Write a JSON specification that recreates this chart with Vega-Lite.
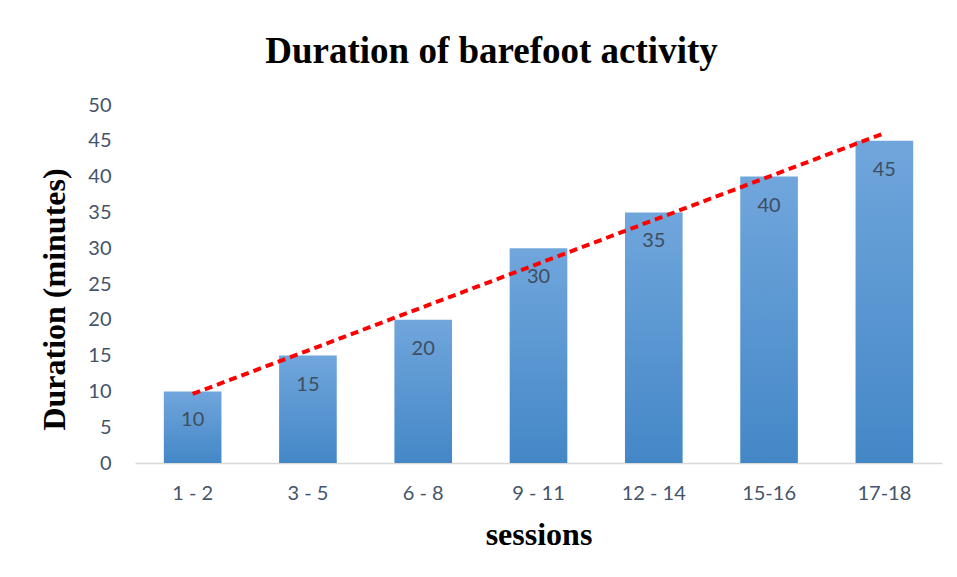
{
  "$schema": "https://vega.github.io/schema/vega-lite/v6.json",
  "autosize": "none",
  "width": 807,
  "height": 358,
  "padding": {"left": 135, "top": 105, "right": 15, "bottom": 114},
  "background": "white",
  "title": {
    "text": "Duration of barefoot activity",
    "font": "Liberation Serif",
    "fontSize": 37,
    "fontWeight": "bold",
    "color": "#000000",
    "anchor": "middle",
    "offset": 24,
    "dx": -47
  },
  "data": {
    "values": [
      {"session": "1 - 2", "duration": 10, "trend": 9.64},
      {"session": "3 - 5", "duration": 15, "trend": 15.71},
      {"session": "6 - 8", "duration": 20, "trend": 21.79},
      {"session": "9 - 11", "duration": 30, "trend": 27.86},
      {"session": "12 - 14", "duration": 35, "trend": 33.93},
      {"session": "15-16", "duration": 40, "trend": 40.0},
      {"session": "17-18", "duration": 45, "trend": 46.07}
    ]
  },
  "encoding": {
    "x": {
      "field": "session",
      "type": "nominal",
      "sort": null,
      "scale": {"paddingInner": 0.5, "paddingOuter": 0.25},
      "axis": {
        "title": "sessions",
        "titleFont": "Liberation Serif",
        "titleFontSize": 32,
        "titleFontWeight": "bold",
        "titleColor": "#000000",
        "titlePadding": 16,
        "labelAngle": 0,
        "labelFont": "Lato",
        "labelFontSize": 20,
        "labelColor": "#44546A",
        "labelPadding": 20,
        "ticks": false,
        "domainColor": "#D9D9D9",
        "domainWidth": 1.5,
        "grid": false
      }
    },
    "y": {
      "field": "duration",
      "type": "quantitative",
      "scale": {"domain": [0, 50]},
      "axis": {
        "title": "Duration (minutes)",
        "titleFont": "Liberation Serif",
        "titleFontSize": 32,
        "titleFontWeight": "bold",
        "titleColor": "#000000",
        "titleAngle": -90,
        "titleBaseline": "middle",
        "titleAnchor": "middle",
        "titleX": -81,
        "titleY": 194,
        "values": [0, 5, 10, 15, 20, 25, 30, 35, 40, 45, 50],
        "labelOverlap": false,
        "labelFont": "Lato",
        "labelFontSize": 20,
        "labelColor": "#44546A",
        "labelPadding": 24,
        "ticks": false,
        "domain": false,
        "grid": false
      }
    }
  },
  "layer": [
    {
      "mark": {
        "type": "bar",
        "color": {
          "gradient": "linear",
          "x1": 0, "y1": 0, "x2": 0, "y2": 1,
          "stops": [
            {"offset": 0, "color": "#70A6DC"},
            {"offset": 1, "color": "#4487C7"}
          ]
        }
      }
    },
    {
      "mark": {
        "type": "text",
        "baseline": "middle",
        "dy": 29,
        "font": "Lato",
        "fontSize": 20,
        "color": "#404D5E"
      },
      "encoding": {
        "text": {"field": "duration", "type": "quantitative"}
      }
    },
    {
      "mark": {
        "type": "line",
        "color": "#FF0000",
        "strokeWidth": 4,
        "strokeDash": [8, 5]
      },
      "encoding": {
        "y": {"field": "trend", "type": "quantitative"}
      }
    }
  ],
  "config": {
    "view": {"stroke": null},
    "axis": {"labelOverlap": false}
  }
}
